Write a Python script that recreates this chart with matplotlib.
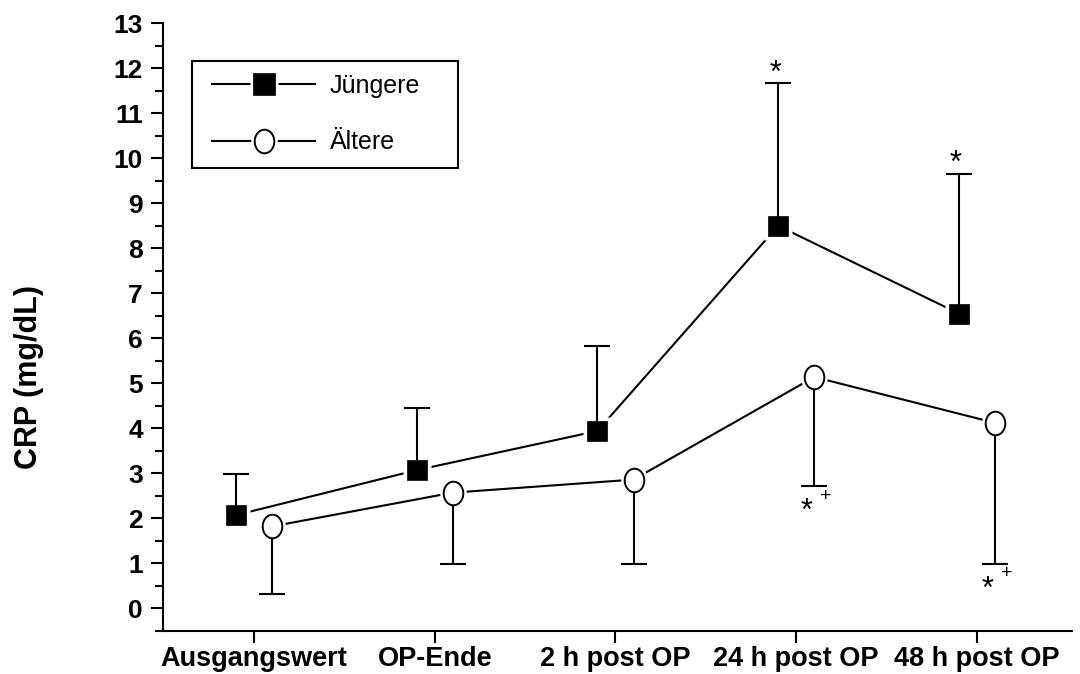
import numpy as np
import matplotlib
matplotlib.use("Agg")
import matplotlib.pyplot as plt
from matplotlib.path import Path
from matplotlib.lines import Line2D
from matplotlib.legend_handler import HandlerTuple
from matplotlib.patches import Rectangle
from matplotlib.ticker import MultipleLocator

plt.rcParams['font.family'] = ['Liberation Sans', 'DejaVu Sans']

# ---------------- data ----------------
categories = ['Ausgangswert', 'OP-Ende', '2 h post OP', '24 h post OP', '48 h post OP']
juengere_mean = [2.07, 3.07, 3.94, 8.50, 6.55]
juengere_err_up = [0.92, 1.38, 1.89, 3.17, 3.11]
aeltere_mean = [1.82, 2.57, 2.86, 5.14, 4.12]
aeltere_err_down = [1.50, 1.59, 1.88, 2.43, 3.13]
sig_juengere = ['', '', '', '*', '*']
sig_aeltere_star = ['', '', '', '*', '*']
sig_aeltere_plus = ['', '', '', '+', '+']
series_labels = ['Jüngere', 'Ältere']
y_ticks = list(range(0, 14))

# ---------------- figure ----------------
W, H = 1080, 674
fig = plt.figure(figsize=(W / 100, H / 100), dpi=100)
ax_l, ax_r, ax_t, ax_b = 163, 1071.7, 23.3, 630.8
ax = fig.add_axes([ax_l / W, 1 - ax_b / H, (ax_r - ax_l) / W, (ax_b - ax_t) / H])

x = np.arange(len(categories))
dx = 0.1
xj = x - dx
xa = x + dx
jm = np.array(juengere_mean)
am = np.array(aeltere_mean)
ju = jm + np.array(juengere_err_up)
ad = am - np.array(aeltere_err_down)

# elliptic marker for "Ältere"
uc = Path.unit_circle()
ell = Path(uc.vertices * np.array([0.83, 1.0]), uc.codes)

lw = 1.5
# connecting lines
ax.plot(xj, jm, color='black', lw=lw, zorder=2)
ax.plot(xa, am, color='black', lw=lw, zorder=2)
# white halos to create gaps around markers
ax.plot(xj, jm, ls='none', marker='s', ms=19.5, mfc='white', mec='none', zorder=3)
ax.plot(xa, am, ls='none', marker=ell, ms=23, mfc='white', mec='none', zorder=3)
# error bars (one-sided)
ax.vlines(xj, jm, ju, color='black', lw=lw, zorder=4)
ax.plot(xj, ju, ls='none', marker='_', ms=18.5, mew=lw, color='black', zorder=4)
ax.vlines(xa, ad, am, color='black', lw=lw, zorder=4)
ax.plot(xa, ad, ls='none', marker='_', ms=18.5, mew=lw, color='black', zorder=4)
# markers
ax.plot(xj, jm, ls='none', marker='s', ms=14.4, mfc='black', mec='black', mew=0.5, zorder=5)
ax.plot(xa, am, ls='none', marker=ell, ms=17, mfc='white', mec='black', mew=1.4, zorder=5)

# significance marks
for xi, yi, s in zip(xj, ju, sig_juengere):
    if s:
        ax.annotate(s, (xi, yi), xytext=(-2.2, 1.0), textcoords='offset points',
                    ha='center', va='baseline', fontsize=22, zorder=6)
for xi, yi, s in zip(xa, ad, sig_aeltere_star):
    if s:
        ax.annotate(s, (xi, yi), xytext=(-5.8, -24.5), textcoords='offset points',
                    ha='center', va='baseline', fontsize=22, zorder=6)
for xi, yi, s in zip(xa, ad, sig_aeltere_plus):
    if s:
        ax.annotate(s, (xi, yi), xytext=(8.6, -10.5), textcoords='offset points',
                    ha='center', va='baseline', fontsize=14, zorder=6)

# axes styling
ax.set_xlim(-0.503, 4.524)
ax.set_ylim(-0.5, 13)
ax.set_xticks(x)
ax.set_xticklabels(categories, fontsize=19.5, fontweight='bold')
ax.set_yticks(y_ticks)
ax.set_yticklabels([str(t) for t in y_ticks], fontsize=19, fontweight='bold')
ax.yaxis.set_minor_locator(MultipleLocator(0.5))
ax.tick_params(axis='y', which='major', length=9, width=1.5, pad=5.5, direction='out')
ax.tick_params(axis='y', which='minor', length=5.5, width=1.5, direction='out')
ax.tick_params(axis='x', which='major', length=8.6, width=1.5, pad=2.5, direction='out')
for side in ['top', 'right']:
    ax.spines[side].set_visible(False)
for side in ['left', 'bottom']:
    ax.spines[side].set_linewidth(1.5)

fig.text(29.5 / W, 1 - 377 / H, 'CRP (mg/dL)', rotation=90, ha='center', va='center',
         fontsize=22, fontweight='bold')

# legend
axw, axh = ax_r - ax_l, ax_b - ax_t
h_j = (Line2D([], [], color='black', lw=lw),
       Line2D([], [], ls='none', marker='s', ms=20.5, mfc='white', mec='none'),
       Line2D([], [], ls='none', marker='s', ms=16, mfc='black', mec='black', mew=0.5))
h_a = (Line2D([], [], color='black', lw=lw),
       Line2D([], [], ls='none', marker=ell, ms=23, mfc='white', mec='none'),
       Line2D([], [], ls='none', marker=ell, ms=17, mfc='white', mec='black', mew=1.4))
leg = ax.legend([h_j, h_a], series_labels, handler_map={tuple: HandlerTuple(ndivide=1)},
                loc='upper left',
                bbox_to_anchor=((212 - ax_l) / axw, 1 - (74 - ax_t) / axh),
                borderaxespad=0, borderpad=0, frameon=False, fontsize=18,
                handlelength=4.12, handletextpad=0.6, labelspacing=1.3, numpoints=1)
ax.add_patch(Rectangle(((192 - ax_l) / axw, 1 - (168 - ax_t) / axh),
                       266 / axw, 107 / axh, transform=ax.transAxes,
                       fill=False, edgecolor='black', lw=1.5, zorder=6, clip_on=False))

fig.savefig('out.png', dpi=100)
